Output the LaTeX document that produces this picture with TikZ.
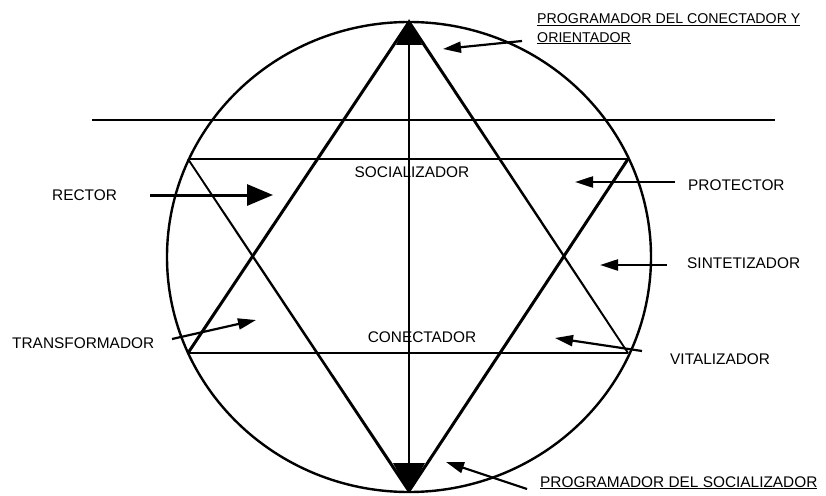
\documentclass[tikz,border=0pt]{standalone}
\usepackage{fontspec}
\setmainfont{Liberation Sans}
\usetikzlibrary{arrows.meta}
\tikzset{
  lbl/.style={inner sep=0pt, anchor=base west, font=\fontsize{15.4}{19}\selectfont},
  lblc/.style={inner sep=0pt, anchor=base, font=\fontsize{15.4}{19}\selectfont},
  lbltop/.style={inner sep=0pt, anchor=base west, font=\fontsize{14.2}{19}\selectfont},
  starline/.style={line width=3pt, line cap=round, line join=round},
  thinline/.style={line width=1.8pt},
  ring/.style={line width=2.4pt},
  arr/.style={line width=2.2pt, -{Triangle[length=18pt,width=11pt]}},
  bigarr/.style={line width=3pt, -{Triangle[length=26pt,width=21pt]}}
}
\begin{document}
\begin{tikzpicture}[x=1pt,y=-1pt]
\useasboundingbox (0,0) rectangle (826,495);
% star corners
\coordinate (A) at (409,22);
\coordinate (BL) at (188,353);
\coordinate (BR) at (628,353);
\coordinate (D) at (409,491);
\coordinate (TL) at (188,159);
\coordinate (TR) at (628,159);
% circle
\draw[ring] (409,257) ellipse [x radius=242, y radius=235];
% long horizontal line
\coordinate (H1) at (92,120);
\coordinate (H2) at (775,120);
\draw[thinline] (H1) -- (H2);
% horizontals of star
\draw[thinline] (TL) -- (TR);
\draw[thinline] (BL) -- (BR);
% vertical axis
\draw[thinline] (A) -- (D);
% triangles (two tapered sides)
\draw[starline] (BL) -- (A);
\draw[starline] (D) -- (TR);
\fill (410.33,21.12) -- (628.75,352.50) -- (627.25,353.50) -- (407.67,22.88) -- cycle;
\fill (188.75,158.50) -- (410.33,490.11) -- (407.67,491.89) -- (187.25,159.50) -- cycle;
% filled tips
\fill (409,19) -- (396,45) -- (422,45) -- cycle;
\fill (393,463) -- (425,463) -- (409,493) -- cycle;
% labels
\node[lbltop] (prog1a) at (537,23.5) {\underline{PROGRAMADOR DEL CONECTADOR Y}};
\node[lbltop] (prog1b) at (537,42) {\underline{ORIENTADOR}};
\node[lbl] (rector) at (52,200) {RECTOR};
\node[lblc] (social) at (412,177) {SOCIALIZADOR};
\node[lbl] (protector) at (688,190) {PROTECTOR};
\node[lbl] (sintet) at (687,268) {SINTETIZADOR};
\node[lbl] (transf) at (12,348) {TRANSFORMADOR};
\node[lblc] (conect) at (422,342) {CONECTADOR};
\node[lbl] (vital) at (670,364) {VITALIZADOR};
\node[lbl] (prog2) at (540,487) {\underline{PROGRAMADOR DEL SOCIALIZADOR}};
% arrow ends
\coordinate (t1) at (522,41);   \coordinate (h1) at (443,49);
\coordinate (t2) at (150,195);  \coordinate (h2) at (273,195);
\coordinate (t3) at (675,182);  \coordinate (h3) at (575,182);
\coordinate (t4) at (667,265);  \coordinate (h4) at (600,265);
\coordinate (t5) at (172,339);  \coordinate (h5) at (256,320);
\coordinate (t6) at (642,351);  \coordinate (h6) at (555,338);
\coordinate (t7) at (527,489);  \coordinate (h7) at (446,462);
\draw[arr] (t1) -- (h1);
\draw[bigarr] (t2) -- (h2);
\draw[arr] (t3) -- (h3);
\draw[arr] (t4) -- (h4);
\draw[arr] (t5) -- (h5);
\draw[arr] (t6) -- (h6);
\draw[arr] (t7) -- (h7);
\end{tikzpicture}
\end{document}
